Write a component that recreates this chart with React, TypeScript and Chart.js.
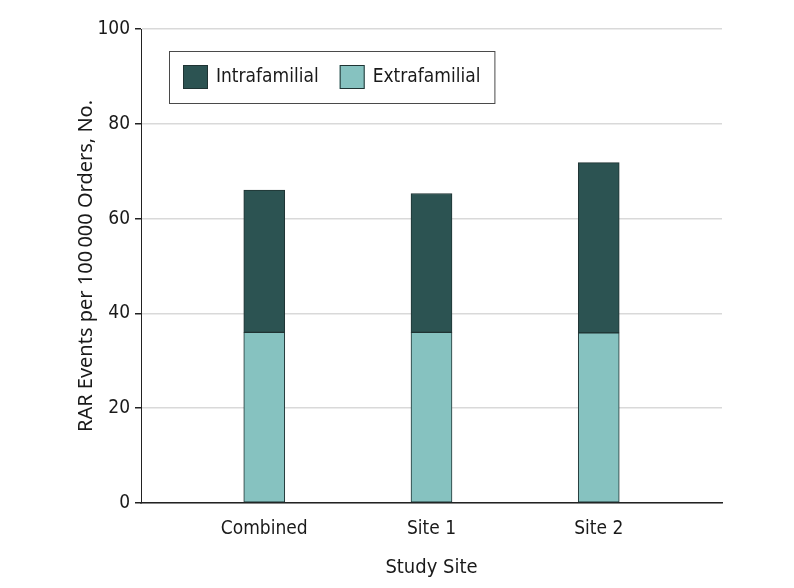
import React, { useEffect, useRef } from "react";
import { Chart, registerables } from "chart.js";

Chart.register(...registerables);

const categories = ["Combined", "Site 1", "Site 2"];
const extrafamilial = [36.0, 36.0, 35.9];
const intrafamilial = [30.0, 29.3, 35.9];
const yTicks = [0, 20, 40, 60, 80, 100];
const legendOrder = ["Intrafamilial", "Extrafamilial"];

const DARK = "#2c5352";
const LIGHT = "#86c2c0";
const EDGE = "#1f3333";
const TEXT = "#1a1a1a";
const COND = "'DejaVu Sans Condensed', 'DejaVu Sans', sans-serif";

const boxLegend = {
  id: "boxLegend",
  afterDraw(chart: any) {
    const { ctx, chartArea } = chart;
    const x0 = chartArea.left + 28;
    const y0 = chartArea.top + 22;
    ctx.save();
    ctx.font = `19px ${COND}`;
    const sw = 25, sh = 24, gapText = 8, itemGap = 21, padX = 14, h = 52;
    const items = legendOrder.map((label) => {
      const ds = chart.data.datasets.find((d: any) => d.label === label);
      return { label, color: ds ? ds.backgroundColor : "#ccc" };
    });
    let w = padX;
    items.forEach((it, i) => {
      w += sw + gapText + ctx.measureText(it.label).width + (i < items.length - 1 ? itemGap : padX);
    });
    ctx.fillStyle = "#fff";
    ctx.fillRect(x0, y0, w, h);
    ctx.strokeStyle = "#4a4a4a";
    ctx.lineWidth = 1;
    ctx.strokeRect(x0 + 0.5, y0 + 0.5, w, h);
    let x = x0 + padX;
    items.forEach((it) => {
      ctx.fillStyle = it.color;
      ctx.fillRect(x, y0 + 14, sw, sh);
      ctx.strokeStyle = EDGE;
      ctx.strokeRect(x + 0.5, y0 + 14.5, sw - 1, sh - 1);
      x += sw + gapText;
      ctx.fillStyle = TEXT;
      ctx.textBaseline = "middle";
      ctx.textAlign = "left";
      ctx.fillText(it.label, x, y0 + 26);
      x += ctx.measureText(it.label).width + itemGap;
    });
    ctx.restore();
  },
};

export default function App() {
  const ref = useRef<HTMLCanvasElement | null>(null);

  useEffect(() => {
    if (!ref.current) return;
    const tickFont = { family: COND, size: 19 };
    const chart = new Chart(ref.current, {
      type: "bar",
      data: {
        datasets: [
          {
            label: "Extrafamilial",
            data: categories.map((_, i) => ({ x: i, y: extrafamilial[i] })),
            backgroundColor: LIGHT,
            borderColor: EDGE,
            borderWidth: 1,
            borderSkipped: false,
            barThickness: 41,
          },
          {
            label: "Intrafamilial",
            data: categories.map((_, i) => ({ x: i, y: intrafamilial[i] })),
            backgroundColor: DARK,
            borderColor: EDGE,
            borderWidth: 1,
            borderSkipped: false,
            barThickness: 41,
          },
        ],
      },
      options: {
        animation: false,
        responsive: false,
        maintainAspectRatio: false,
        layout: { padding: { top: 29, right: 72, left: 0, bottom: 0 } },
        plugins: { legend: { display: false }, tooltip: { enabled: false } },
        scales: {
          x: {
            type: "linear",
            stacked: true,
            offset: false,
            min: -0.737,
            max: 2.737,
            afterBuildTicks: (s: any) => {
              s.ticks = categories.map((_, i) => ({ value: i }));
            },
            afterFit: (s: any) => {
              s.height = 85;
            },
            grid: { display: false },
            border: { display: true, color: "#222", width: 1.5 },
            ticks: {
              callback: (v: any) => categories[v as number] ?? "",
              font: tickFont,
              color: TEXT,
              padding: 7,
              maxRotation: 0,
              autoSkip: false,
            },
            title: {
              display: true,
              text: "Study Site",
              font: { family: COND, size: 20 },
              color: TEXT,
              padding: { top: 0, bottom: 8 },
            },
          },
          y: {
            stacked: true,
            min: 0,
            max: 100,
            afterBuildTicks: (s: any) => {
              s.ticks = yTicks.map((v) => ({ value: v }));
            },
            afterFit: (s: any) => {
              s.width = 141;
            },
            grid: {
              color: "#d9d9d9",
              lineWidth: 1.5,
              tickColor: "#222",
              tickLength: 6,
              drawTicks: true,
            },
            border: { color: "#222", width: 1 },
            ticks: { font: tickFont, color: TEXT, padding: 5 },
            title: {
              display: true,
              text: "RAR Events per 100\u2009000 Orders, No.",
              font: { family: "'Noto Sans', sans-serif", size: 20 },
              color: TEXT,
              padding: { top: 74, bottom: 0 },
            },
          },
        },
      },
      plugins: [boxLegend],
    } as any);
    return () => chart.destroy();
  }, []);

  return (
    <div style={{ position: "fixed", left: 0, top: 0, width: 794, height: 588, background: "#fff" }}>
      <canvas ref={ref} width={794} height={588} style={{ display: "block", width: 794, height: 588 }} />
    </div>
  );
}
